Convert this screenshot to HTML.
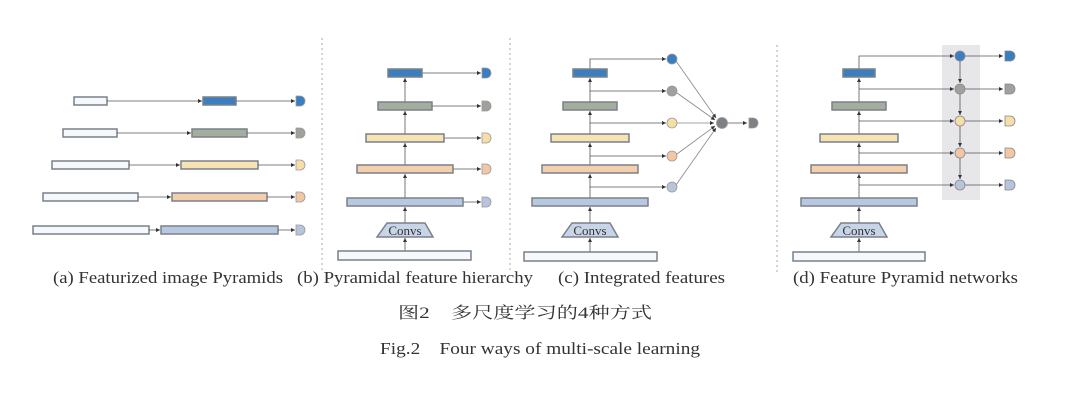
<!DOCTYPE html>
<html><head><meta charset="utf-8"><style>
html,body{margin:0;padding:0;background:#fff;}
svg{display:block;}
text{font-family:"Liberation Serif","Noto Serif CJK SC",serif;fill:#333;}
</style></head><body>
<svg width="1080" height="408" viewBox="0 0 1080 408" xmlns="http://www.w3.org/2000/svg">
<defs>
<marker id="ar" viewBox="0 0 6 6" refX="6" refY="3" markerWidth="5" markerHeight="5" orient="auto"><path d="M0,0 L6,3 L0,6 z" fill="#333"/></marker>
</defs>
<g stroke="#aaa" stroke-width="1" stroke-dasharray="2,3">
<line x1="322" y1="38" x2="322" y2="272"/>
<line x1="510" y1="38" x2="510" y2="272"/>
<line x1="777" y1="45" x2="777" y2="272"/>
</g>
<rect x="942" y="45" width="38" height="155" fill="#e7e7ea"/>

<!-- (a) -->
<g stroke="#7a8088" stroke-width="1.5">
<rect x="74" y="97" width="33" height="8" fill="#f5f8fc"/>
<rect x="63" y="129" width="54" height="8" fill="#f5f8fc"/>
<rect x="52" y="161" width="77" height="8" fill="#f5f8fc"/>
<rect x="43" y="193" width="95" height="8" fill="#f5f8fc"/>
<rect x="33" y="226" width="116" height="8" fill="#f5f8fc"/>
<rect x="203" y="97" width="33" height="8" fill="#3d7ebf"/>
<rect x="192" y="129" width="55" height="8" fill="#a3ae9e"/>
<rect x="181" y="161" width="77" height="8" fill="#f6e3b4"/>
<rect x="172" y="193" width="95" height="8" fill="#f3cfae"/>
<rect x="161" y="226" width="117" height="8" fill="#b8c8e2"/>
</g>
<g stroke="#555" stroke-width="0.8" marker-end="url(#ar)">
<line x1="107" y1="101" x2="202" y2="101"/>
<line x1="117" y1="133" x2="191" y2="133"/>
<line x1="129" y1="165" x2="180" y2="165"/>
<line x1="138" y1="197" x2="171" y2="197"/>
<line x1="149" y1="230" x2="160" y2="230"/>
<line x1="236" y1="101" x2="295" y2="101"/>
<line x1="247" y1="133" x2="295" y2="133"/>
<line x1="258" y1="165" x2="295" y2="165"/>
<line x1="267" y1="197" x2="295" y2="197"/>
<line x1="278" y1="230" x2="295" y2="230"/>
</g>
<g stroke="#999" stroke-width="0.8">
<path d="M296,96 h4 a5,5 0 0 1 0,10 h-4 z" fill="#3a7dc0"/>
<path d="M296,128 h4 a5,5 0 0 1 0,10 h-4 z" fill="#a0a09c"/>
<path d="M296,160 h4 a5,5 0 0 1 0,10 h-4 z" fill="#f5deaa"/>
<path d="M296,192 h4 a5,5 0 0 1 0,10 h-4 z" fill="#f2c8a4"/>
<path d="M296,225 h4 a5,5 0 0 1 0,10 h-4 z" fill="#b8c4dc"/>
</g>

<!-- (b) -->
<g stroke="#555" stroke-width="0.8" marker-end="url(#ar)">
<line x1="405" y1="251" x2="405" y2="238"/>
<line x1="405" y1="223" x2="405" y2="207"/>
<line x1="405" y1="198" x2="405" y2="174"/>
<line x1="405" y1="165" x2="405" y2="143"/>
<line x1="405" y1="134" x2="405" y2="111"/>
<line x1="405" y1="102" x2="405" y2="78"/>
<line x1="422" y1="73" x2="481" y2="73"/>
<line x1="432" y1="106" x2="481" y2="106"/>
<line x1="444" y1="138" x2="481" y2="138"/>
<line x1="453" y1="169" x2="481" y2="169"/>
<line x1="463" y1="202" x2="481" y2="202"/>
</g>
<g stroke="#7a8088" stroke-width="1.5">
<rect x="388" y="69" width="34" height="8" fill="#3d7ebf"/>
<rect x="378" y="102" width="54" height="8" fill="#a3ae9e"/>
<rect x="366" y="134" width="78" height="8" fill="#f6e3b4"/>
<rect x="357" y="165" width="96" height="8" fill="#f3cfae"/>
<rect x="347" y="198" width="116" height="8" fill="#b8c8e2"/>
<rect x="338" y="251" width="133" height="9" fill="#f5f8fc"/>
<path d="M387,223 H425 L433,237 H377 Z" fill="#c8d4e8"/>
</g>
<text x="405" y="235" font-size="13" text-anchor="middle" fill="#444">Convs</text>
<g stroke="#999" stroke-width="0.8">
<path d="M482,68 h4 a5,5 0 0 1 0,10 h-4 z" fill="#3a7dc0"/>
<path d="M482,101 h4 a5,5 0 0 1 0,10 h-4 z" fill="#a0a09c"/>
<path d="M482,133 h4 a5,5 0 0 1 0,10 h-4 z" fill="#f5deaa"/>
<path d="M482,164 h4 a5,5 0 0 1 0,10 h-4 z" fill="#f2c8a4"/>
<path d="M482,197 h4 a5,5 0 0 1 0,10 h-4 z" fill="#b8c4dc"/>
</g>

<!-- (c) -->
<g stroke="#555" stroke-width="0.8" fill="none">
<polyline points="590,69 590,59 666,59" marker-end="url(#ar)"/>
<line x1="590" y1="91" x2="666" y2="91" marker-end="url(#ar)"/>
<line x1="590" y1="123" x2="666" y2="123" marker-end="url(#ar)"/>
<line x1="590" y1="156" x2="666" y2="156" marker-end="url(#ar)"/>
<line x1="590" y1="187" x2="666" y2="187" marker-end="url(#ar)"/>
<line x1="590" y1="252" x2="590" y2="238" marker-end="url(#ar)"/>
<line x1="590" y1="223" x2="590" y2="207" marker-end="url(#ar)"/>
<line x1="590" y1="198" x2="590" y2="174" marker-end="url(#ar)"/>
<line x1="590" y1="165" x2="590" y2="143" marker-end="url(#ar)"/>
<line x1="590" y1="134" x2="590" y2="111" marker-end="url(#ar)"/>
<line x1="590" y1="102" x2="590" y2="78" marker-end="url(#ar)"/>
<g stroke="#888">
<line x1="676" y1="61" x2="716" y2="118" marker-end="url(#ar)"/>
<line x1="677" y1="93" x2="715" y2="120" marker-end="url(#ar)"/>
<line x1="677" y1="123" x2="714" y2="123" marker-end="url(#ar)"/>
<line x1="677" y1="154" x2="715" y2="126" marker-end="url(#ar)"/>
<line x1="676" y1="185" x2="716" y2="128" marker-end="url(#ar)"/>
</g>
<line x1="727" y1="123" x2="747" y2="123" marker-end="url(#ar)"/>
</g>
<g stroke="#7a8088" stroke-width="1.5">
<rect x="573" y="69" width="34" height="8" fill="#3d7ebf"/>
<rect x="563" y="102" width="54" height="8" fill="#a3ae9e"/>
<rect x="551" y="134" width="78" height="8" fill="#f6e3b4"/>
<rect x="542" y="165" width="96" height="8" fill="#f3cfae"/>
<rect x="532" y="198" width="116" height="8" fill="#b8c8e2"/>
<rect x="524" y="252" width="133" height="9" fill="#f5f8fc"/>
<path d="M572,223 H610 L618,237 H562 Z" fill="#c8d4e8"/>
</g>
<text x="590" y="235" font-size="13" text-anchor="middle" fill="#444">Convs</text>
<g stroke="#999" stroke-width="0.8">
<circle cx="672" cy="59" r="5" fill="#3a7dc0"/>
<circle cx="672" cy="91" r="5" fill="#a0a09c"/>
<circle cx="672" cy="123" r="5" fill="#f5deaa"/>
<circle cx="672" cy="156" r="5" fill="#f2c8a4"/>
<circle cx="672" cy="187" r="5" fill="#b8c4dc"/>
<circle cx="722" cy="123" r="5.5" fill="#7d8084"/>
<path d="M749,118 h4 a5,5 0 0 1 0,10 h-4 z" fill="#7d8084"/>
</g>

<!-- (d) -->
<g stroke="#555" stroke-width="0.8" fill="none">
<polyline points="859,69 859,56 954,56" marker-end="url(#ar)"/>
<line x1="859" y1="89" x2="954" y2="89" marker-end="url(#ar)"/>
<line x1="859" y1="121" x2="954" y2="121" marker-end="url(#ar)"/>
<line x1="859" y1="153" x2="954" y2="153" marker-end="url(#ar)"/>
<line x1="859" y1="185" x2="954" y2="185" marker-end="url(#ar)"/>
<line x1="859" y1="252" x2="859" y2="238" marker-end="url(#ar)"/>
<line x1="859" y1="223" x2="859" y2="207" marker-end="url(#ar)"/>
<line x1="859" y1="198" x2="859" y2="174" marker-end="url(#ar)"/>
<line x1="859" y1="165" x2="859" y2="143" marker-end="url(#ar)"/>
<line x1="859" y1="134" x2="859" y2="111" marker-end="url(#ar)"/>
<line x1="859" y1="102" x2="859" y2="78" marker-end="url(#ar)"/>
<line x1="960" y1="61" x2="960" y2="83" marker-end="url(#ar)"/>
<line x1="960" y1="94" x2="960" y2="115" marker-end="url(#ar)"/>
<line x1="960" y1="126" x2="960" y2="147" marker-end="url(#ar)"/>
<line x1="960" y1="158" x2="960" y2="179" marker-end="url(#ar)"/>
<line x1="965" y1="56" x2="1003" y2="56" marker-end="url(#ar)"/>
<line x1="965" y1="89" x2="1003" y2="89" marker-end="url(#ar)"/>
<line x1="965" y1="121" x2="1003" y2="121" marker-end="url(#ar)"/>
<line x1="965" y1="153" x2="1003" y2="153" marker-end="url(#ar)"/>
<line x1="965" y1="185" x2="1003" y2="185" marker-end="url(#ar)"/>
</g>
<g stroke="#7a8088" stroke-width="1.5">
<rect x="843" y="69" width="32" height="8" fill="#3d7ebf"/>
<rect x="832" y="102" width="54" height="8" fill="#a3ae9e"/>
<rect x="820" y="134" width="78" height="8" fill="#f6e3b4"/>
<rect x="811" y="165" width="96" height="8" fill="#f3cfae"/>
<rect x="801" y="198" width="116" height="8" fill="#b8c8e2"/>
<rect x="793" y="252" width="132" height="9" fill="#f5f8fc"/>
<path d="M841,223 H879 L887,237 H831 Z" fill="#c8d4e8"/>
</g>
<text x="859" y="235" font-size="13" text-anchor="middle" fill="#444">Convs</text>
<g stroke="#888" stroke-width="0.8">
<circle cx="960" cy="56" r="5" fill="#3a7dc0"/>
<circle cx="960" cy="89" r="5" fill="#a0a09c"/>
<circle cx="960" cy="121" r="5" fill="#f5deaa"/>
<circle cx="960" cy="153" r="5" fill="#f2c8a4"/>
<circle cx="960" cy="185" r="5" fill="#b8c4dc"/>
<path d="M1005,51 h5 a5,5 0 0 1 0,10 h-5 z" fill="#3a7dc0"/>
<path d="M1005,84 h5 a5,5 0 0 1 0,10 h-5 z" fill="#a0a09c"/>
<path d="M1005,116 h5 a5,5 0 0 1 0,10 h-5 z" fill="#f5deaa"/>
<path d="M1005,148 h5 a5,5 0 0 1 0,10 h-5 z" fill="#f2c8a4"/>
<path d="M1005,180 h5 a5,5 0 0 1 0,10 h-5 z" fill="#b8c4dc"/>
</g>

<!-- labels -->
<g font-size="17" style="fill:#222">
<text x="53" y="283" textLength="230" lengthAdjust="spacingAndGlyphs">(a) Featurized image Pyramids</text>
<text x="297" y="283" textLength="236" lengthAdjust="spacingAndGlyphs">(b) Pyramidal feature hierarchy</text>
<text x="558" y="283" textLength="167" lengthAdjust="spacingAndGlyphs">(c) Integrated features</text>
<text x="793" y="283" textLength="225" lengthAdjust="spacingAndGlyphs">(d) Feature Pyramid networks</text>
</g>
<text x="398" y="318" font-size="16" textLength="254" lengthAdjust="spacingAndGlyphs" fill="#444">图2　多尺度学习的4种方式</text>
<text x="380" y="354" font-size="17" textLength="320" lengthAdjust="spacingAndGlyphs" fill="#444">Fig.2　Four ways of multi-scale learning</text>
</svg>
</body></html>
